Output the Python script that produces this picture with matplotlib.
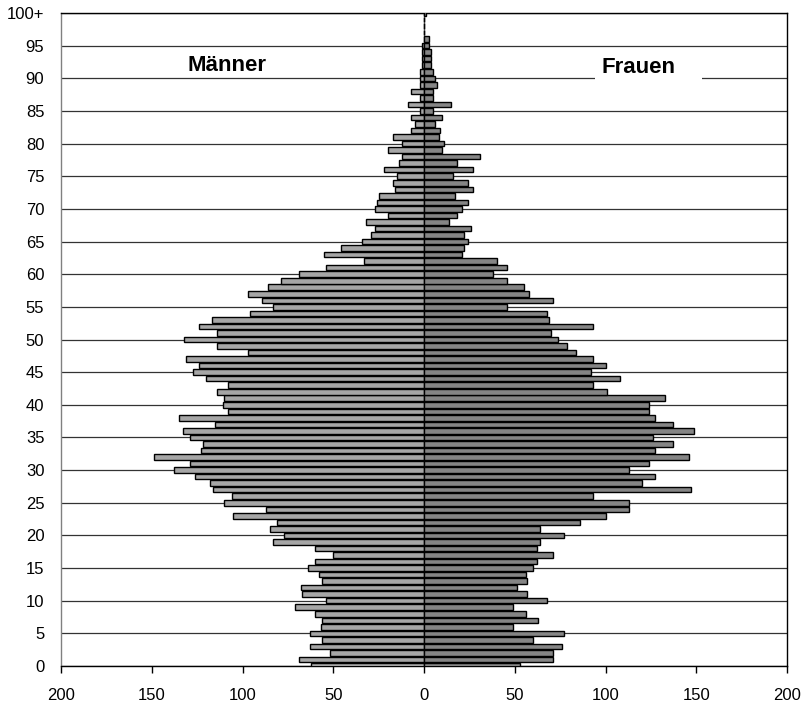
import matplotlib
matplotlib.use("Agg")
import matplotlib.pyplot as plt
from matplotlib.patches import Rectangle

ages = list(range(0, 101))
y_tick_values = [0, 5, 10, 15, 20, 25, 30, 35, 40, 45, 50, 55, 60, 65, 70, 75, 80, 85, 90, 95, 100]
y_tick_labels = ["0", "5", "10", "15", "20", "25", "30", "35", "40", "45", "50",
                 "55", "60", "65", "70", "75", "80", "85", "90", "95", "100+"]
x_tick_values = [-200, -150, -100, -50, 0, 50, 100, 150, 200]
x_tick_labels = ["200", "150", "100", "50", "0", "50", "100", "150", "200"]

men = [62, 69, 52, 63, 56, 63, 57, 56, 60, 71,
       54, 67, 68, 56, 58, 64, 60, 50, 60, 83,
       77, 85, 81, 105, 87, 110, 106, 116, 118, 126,
       138, 129, 149, 123, 122, 129, 133, 115, 135, 108,
       111, 110, 114, 108, 120, 127, 124, 131, 97, 114,
       132, 114, 124, 117, 96, 83, 89, 97, 86, 79,
       69, 54, 33, 55, 46, 34, 29, 27, 32, 20,
       27, 26, 25, 16, 17, 15, 22, 14, 12, 20,
       12, 17, 7, 5, 7, 2, 9, 2, 7, 2,
       2, 2, 1, 1, 1, 1, 0, 0, 0, 0, 0]

women = [53, 71, 71, 76, 60, 77, 49, 63, 56, 49,
         68, 57, 51, 57, 56, 60, 62, 71, 62, 64,
         77, 64, 86, 100, 113, 113, 93, 147, 120, 127,
         113, 124, 146, 127, 137, 126, 149, 137, 127, 124,
         124, 133, 101, 93, 108, 92, 100, 93, 84, 79,
         74, 70, 93, 69, 68, 46, 71, 58, 55, 46,
         38, 46, 40, 21, 22, 24, 22, 26, 14, 18,
         21, 24, 17, 27, 24, 16, 27, 18, 31, 10,
         11, 8, 9, 6, 10, 5, 15, 5, 5, 7,
         6, 5, 4, 4, 4, 3, 3, 0, 0, 0, 1]

fig = plt.figure(figsize=(8.08, 7.05), dpi=100)
ax = fig.add_axes([61 / 808, 1 - 666 / 705, (787 - 61) / 808, (666 - 13) / 705])

ax.barh(ages, [-v for v in men], height=0.85, color="#a6a6a6",
        edgecolor="black", linewidth=1.0, zorder=3)
ax.barh(ages, women, height=0.85, color="#858585",
        edgecolor="black", linewidth=1.0, zorder=3)

ax.set_xlim(-200, 200)
ax.set_ylim(0, 100)
for yv in y_tick_values:
    ax.axhline(yv, color="#333333", linewidth=0.9, zorder=1)

# white box behind the "Frauen" label
ax.add_patch(Rectangle((94, 89.3), 59, 4.7, facecolor="white", edgecolor="none", zorder=2))

ax.set_yticks(y_tick_values)
ax.set_yticklabels(y_tick_labels, fontsize=12, family="Liberation Sans")
ax.set_xticks(x_tick_values)
ax.set_xticklabels(x_tick_labels, fontsize=12, family="Liberation Sans")
ax.tick_params(axis="y", length=0, pad=12)
ax.tick_params(axis="x", length=5, width=1, direction="out", pad=11)

for side in ["top", "right", "bottom"]:
    ax.spines[side].set_color("black")
    ax.spines[side].set_linewidth(1.0)
ax.spines["left"].set_color("#808080")
ax.spines["left"].set_linewidth(1.0)

ax.text(-108.5, 92.0, "Männer", fontsize=16, fontweight="bold",
        family="Liberation Sans", ha="center", va="center", zorder=5)
ax.text(118, 91.6, "Frauen", fontsize=16, fontweight="bold",
        family="Liberation Sans", ha="center", va="center", zorder=5)

fig.savefig("out.png", dpi=100)
